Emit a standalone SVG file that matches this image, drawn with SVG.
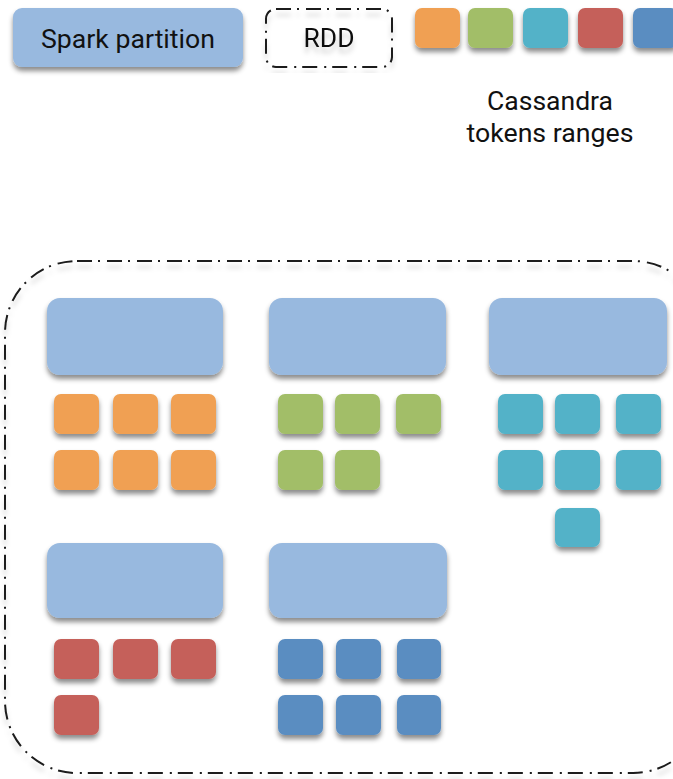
<svg xmlns="http://www.w3.org/2000/svg" width="673" height="779" viewBox="0 0 673 779">
  <defs>
    <filter id="shadow" x="-20%" y="-20%" width="140%" height="160%">
      <feDropShadow dx="0" dy="4" stdDeviation="2.5" flood-color="#000" flood-opacity="0.45"/>
    </filter>
    <filter id="lineShadow" x="-5%" y="-5%" width="110%" height="115%">
      <feDropShadow dx="0" dy="6" stdDeviation="2.5" flood-color="#000" flood-opacity="0.18"/>
    </filter>
  </defs>
  <style>
    .part { fill: #98B9DF; }
    .tok { filter: url(#shadow); }
    .orange { fill: #F0A052; }
    .green { fill: #A2BE68; }
    .teal { fill: #52B2C8; }
    .red { fill: #C5605A; }
    .blue { fill: #5A8DC1; }
    .rdd { fill: none; stroke: #1a1a1a; stroke-width: 2; stroke-dasharray: 15 6 2 7; }
    .label { font-family: Roboto, "Liberation Sans", sans-serif; fill: #111; text-anchor: middle; }
  </style>

  <rect width="673" height="779" fill="#ffffff"/>

  <!-- Legend -->
  <g id="legend-partition">
    <rect class="part" x="13" y="8" width="230" height="59" rx="9" filter="url(#shadow)"/>
    <text class="label" x="128" y="48" font-size="26" textLength="174" lengthAdjust="spacingAndGlyphs">Spark partition</text>
  </g>
  <g id="legend-rdd" filter="url(#lineShadow)">
    <rect class="rdd" x="266" y="9" width="126" height="58" rx="10"/>
    <text class="label" x="329" y="47" font-size="25" textLength="51" lengthAdjust="spacingAndGlyphs">RDD</text>
  </g>
  <g id="legend-tokens">
    <g class="tok">
      <rect class="orange" x="415" y="8" width="45" height="40" rx="7"/>
      <rect class="green" x="468" y="8" width="45" height="40" rx="7"/>
      <rect class="teal" x="523" y="8" width="45" height="40" rx="7"/>
      <rect class="red" x="578" y="8" width="45" height="40" rx="7"/>
      <rect class="blue" x="633" y="8" width="45" height="40" rx="7"/>
    </g>
    <text class="label" x="550" y="110" font-size="25" textLength="126" lengthAdjust="spacingAndGlyphs">Cassandra</text>
    <text class="label" x="550" y="142" font-size="25" textLength="167" lengthAdjust="spacingAndGlyphs">tokens ranges</text>
  </g>

  <!-- RDD boundary -->
  <g id="rdd" filter="url(#lineShadow)">
    <rect class="rdd" x="5" y="261" width="700" height="512" rx="72"/>
  </g>

  <!-- Partition 1 : orange ranges -->
  <g id="partition-1">
    <rect class="part" x="47" y="298" width="176" height="77" rx="13" filter="url(#shadow)"/>
    <g class="tok">
      <rect class="orange" x="54" y="394" width="45" height="40" rx="7"/>
      <rect class="orange" x="113" y="394" width="45" height="40" rx="7"/>
      <rect class="orange" x="171" y="394" width="45" height="40" rx="7"/>
      <rect class="orange" x="54" y="450" width="45" height="40" rx="7"/>
      <rect class="orange" x="113" y="450" width="45" height="40" rx="7"/>
      <rect class="orange" x="171" y="450" width="45" height="40" rx="7"/>
    </g>
  </g>

  <!-- Partition 2 : green ranges -->
  <g id="partition-2">
    <rect class="part" x="269" y="298" width="177" height="77" rx="13" filter="url(#shadow)"/>
    <g class="tok">
      <rect class="green" x="278" y="394" width="45" height="40" rx="7"/>
      <rect class="green" x="335" y="394" width="45" height="40" rx="7"/>
      <rect class="green" x="396" y="394" width="45" height="40" rx="7"/>
      <rect class="green" x="278" y="450" width="45" height="40" rx="7"/>
      <rect class="green" x="335" y="450" width="45" height="40" rx="7"/>
    </g>
  </g>

  <!-- Partition 3 : teal ranges -->
  <g id="partition-3">
    <rect class="part" x="489" y="298" width="178" height="77" rx="13" filter="url(#shadow)"/>
    <g class="tok">
      <rect class="teal" x="498" y="394" width="45" height="40" rx="7"/>
      <rect class="teal" x="555" y="394" width="45" height="40" rx="7"/>
      <rect class="teal" x="616" y="394" width="45" height="40" rx="7"/>
      <rect class="teal" x="498" y="450" width="45" height="40" rx="7"/>
      <rect class="teal" x="555" y="450" width="45" height="40" rx="7"/>
      <rect class="teal" x="616" y="450" width="45" height="40" rx="7"/>
      <rect class="teal" x="555" y="508" width="45" height="39" rx="7"/>
    </g>
  </g>

  <!-- Partition 4 : red ranges -->
  <g id="partition-4">
    <rect class="part" x="47" y="543" width="176" height="75" rx="13" filter="url(#shadow)"/>
    <g class="tok">
      <rect class="red" x="54" y="639" width="45" height="40" rx="7"/>
      <rect class="red" x="113" y="639" width="45" height="40" rx="7"/>
      <rect class="red" x="171" y="639" width="45" height="40" rx="7"/>
      <rect class="red" x="54" y="695" width="45" height="40" rx="7"/>
    </g>
  </g>

  <!-- Partition 5 : blue ranges -->
  <g id="partition-5">
    <rect class="part" x="269" y="543" width="178" height="75" rx="13" filter="url(#shadow)"/>
    <g class="tok">
      <rect class="blue" x="278" y="639" width="45" height="40" rx="7"/>
      <rect class="blue" x="336" y="639" width="45" height="40" rx="7"/>
      <rect class="blue" x="397" y="639" width="44" height="40" rx="7"/>
      <rect class="blue" x="278" y="695" width="45" height="40" rx="7"/>
      <rect class="blue" x="336" y="695" width="45" height="40" rx="7"/>
      <rect class="blue" x="397" y="695" width="44" height="40" rx="7"/>
    </g>
  </g>

  <g id="connectors"/>
</svg>
